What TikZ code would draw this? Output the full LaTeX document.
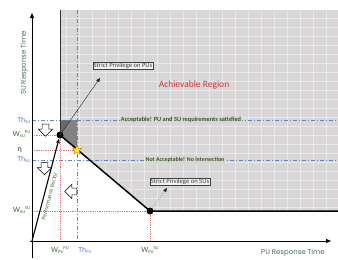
\documentclass[tikz,border=0pt]{standalone}
\usepackage{fontspec}
\setmainfont{Carlito}
\newfontfamily\axisfont{Poppins}
\usetikzlibrary{shapes.arrows,shapes.geometric,arrows.meta}
\definecolor{regfill}{RGB}{216,214,214}
\definecolor{darkg}{RGB}{130,130,130}
\definecolor{darkerg}{RGB}{105,105,105}
\definecolor{thblue}{RGB}{95,135,200}
\definecolor{wred}{RGB}{225,120,120}
\definecolor{lblgreen}{RGB}{60,105,60}
\definecolor{okgreen}{RGB}{55,85,40}
\definecolor{regred}{RGB}{215,55,55}
\definecolor{axgreen}{RGB}{70,110,90}
\newcommand\sbs[1]{\raisebox{-0.9pt}{\fontsize{4.6}{5}\selectfont #1}}
\newcommand\sps[1]{\raisebox{3.2pt}{\fontsize{4.6}{5}\selectfont #1}}
\tikzset{
  thline/.style={thblue, line width=0.6pt, dash pattern=on 4pt off 2pt on 1pt off 2pt},
  wline/.style={wred, line width=0.5pt, dash pattern=on 0.8pt off 1pt},
  axisline/.style={black, line width=0.8pt},
  dot/.style={circle, fill=black, minimum size=7pt, inner sep=0pt},
  boxlbl/.style={draw=gray!50!black, fill=gray!12, line width=0.5pt, text=black!75, font=\fontsize{6.6}{7}\selectfont, inner sep=0.8pt},
  hollow/.style={single arrow, draw=black, fill=white, line width=0.5pt, minimum height=12pt, minimum width=14pt, inner sep=3pt, single arrow head extend=3.5pt},
  sidelbl/.style={font=\fontsize{7.8}{8}\selectfont, anchor=east, inner sep=0pt},
  botlbl/.style={font=\fontsize{7.8}{8}\selectfont, inner sep=0pt},
  oklbl/.style={font=\bfseries\fontsize{6.3}{7}\selectfont, text=okgreen, fill=regfill, inner sep=1pt},
}
\begin{document}
\begin{tikzpicture}[x=1pt,y=-1pt]
\useasboundingbox (0,0) rectangle (338,260);
% achievable region
\fill[regfill] (60,10) -- (338,10) -- (338,211) -- (150,211) -- (60,135) -- cycle;
\begin{scope}
\clip (60,10) -- (338,10) -- (338,211) -- (150,211) -- (60,135) -- cycle;
\foreach \x in {66,79,...,338} \draw[white,opacity=0.45,line width=0.8pt] (\x,10) -- (\x,211);
\foreach \y in {18,27,...,211} \draw[white,opacity=0.45,line width=0.8pt] (60,\y) -- (338,\y);
\end{scope}
% acceptable zone
\fill[darkg] (60,120) -- (77,120) -- (77,150) -- (60,135) -- cycle;
\fill[darkerg] (60,120) -- (70,120) -- (60,135) -- cycle;
% named points
\coordinate (O) at (32,241);
\coordinate (ytop) at (32,13);
\coordinate (ybot) at (32,258);
\coordinate (xl) at (30,241);
\coordinate (xr) at (331,241);
\coordinate (R) at (338,211);
\coordinate (T) at (60,10);
\coordinate (pa) at (100,78);
\coordinate (sa) at (167,188);
% threshold lines
\draw[thline] (77,10) -- (77,241);
\draw[thline] (32,120) -- (338,120);
\draw[thline] (32,160) -- (338,160);
% W dotted lines
\draw[wline] (32,135) -- (60,135);
\draw[wline] (32,150) -- (77,150);
\draw[wline] (32,211) -- (150,211);
\draw[wline] (150,211) -- (150,241);
\draw[wline] (60,135) -- (60,241);
% axes
\draw[axisline,-{Triangle[length=5pt,width=4pt]}] (ybot) -- (ytop);
\draw[axisline,-{Triangle[length=5pt,width=4pt]}] (xl) -- (xr);
% texts on lines
\node[oklbl] (ok) at (181,120) {Acceptable! PU and SU requirements satisfied};
\node[oklbl, font=\bfseries\fontsize{5.9}{7}\selectfont] (nok) at (185,160) {Not Acceptable! No intersection};
% region border and tradeoff curve
\node[dot] (A) at (60,135) {};
\node[dot] (B) at (150,211) {};
\draw[gray!40!black, line width=0.8pt] (T) -- (A.center);
\draw[line width=1.5pt] (A.center) -- (B.center) -- (R);
\node[rotate=-40, text=white, font=\fontsize{3.5}{4}\selectfont, inner sep=0pt] (tr) at (106,177) {Tradeoff};
% performance vector
\draw[line width=1.1pt, -{Stealth[length=5pt,width=4pt]}] (O) -- (A);
\node[rotate=75.5, text=lblgreen, font=\fontsize{6}{6}\selectfont, inner sep=0pt] (pv) at (49.5,196) {Performance Vector};
% star
\node[star, star points=5, star point ratio=2.3, fill=yellow, draw=orange!80!black, line width=0.3pt, minimum size=10pt, inner sep=0pt] (S) at (77,150) {};
% strict privilege boxes
\node[boxlbl] (bp) at (123,66) {Strict Privilege on PUs};
\node[boxlbl] (bs) at (180,181.5) {Strict Privilege on SUs};
\draw[gray!30!black, line width=0.4pt, -{Triangle[length=4pt,width=3.5pt]}] (A.center) -- (pa);
\draw[gray!30!black, line width=0.4pt, dotted, -{Triangle[length=4pt,width=3.5pt]}] (B.center) -- (sa);
% hollow arrows
\node[hollow, rotate=-90] (h1) at (45.5,128.5) {};
\node[hollow, rotate=-90] (h2) at (44.5,167) {};
\node[hollow, rotate=180] (h3) at (72.5,191.5) {};
% region title
\node[text=regred, font=\fontsize{9.5}{10}\selectfont] (ar) at (194,85) {Achievable Region};
% side labels
\node[sidelbl, text=thblue] (l1) at (30.5,120) {Th\sbs{SU}};
\node[sidelbl, text=lblgreen] (l2) at (30.5,134) {W\sbs{SU}\sps{PU}};
\node[sidelbl, text=black!80] (l3) at (22,150) {η};
\node[sidelbl, text=thblue] (l4) at (30.5,159) {Th\sbs{SU}};
\node[sidelbl, text=lblgreen] (l5) at (30.5,210) {W\sbs{SU}\sps{SU}};
% bottom labels
\node[botlbl, text=lblgreen] (b1) at (60,250) {W\sbs{PU}\sps{PU}};
\node[botlbl, text=thblue] (b2) at (85,250) {Th\sbs{PU}};
\node[botlbl, text=lblgreen] (b3) at (150,250) {W\sbs{PU}\sps{SU}};
% axis titles
\node[rotate=90, text=axgreen, font=\axisfont\fontsize{7}{8}\selectfont] (yt) at (24,63) {SU Response Time};
\node[text=axgreen, font=\axisfont\fontsize{7}{8}\selectfont] (xt) at (293,253) {PU Response Time};
\end{tikzpicture}
\end{document}
